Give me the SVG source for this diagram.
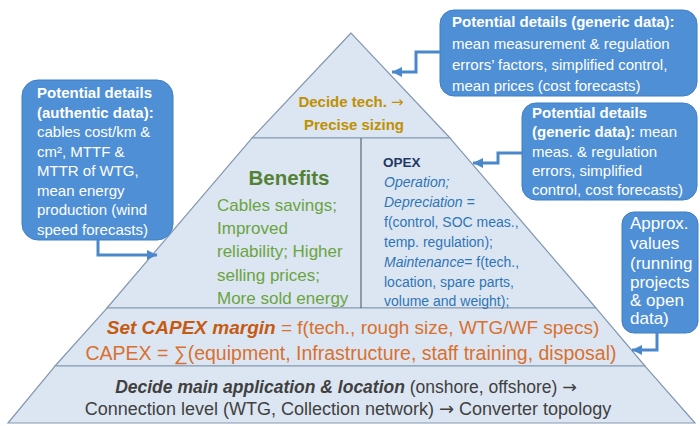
<svg xmlns="http://www.w3.org/2000/svg" width="700" height="426" viewBox="0 0 700 426">
<style>
text{font-family:"Liberation Sans",Arial,sans-serif}
.arr{font-family:"DejaVu Sans",sans-serif;font-weight:normal;font-style:normal}
.sec{fill:#dce6f2;stroke:#8497b0;stroke-width:1.2}
.div{stroke:#5a6573;stroke-width:1.2}
.box{fill:#4e8fd6;stroke:#3f7fc4;stroke-width:1}
.ct{fill:#ffffff;font-size:15px}
.ca{fill:#ffffff;font-size:17px}
.b{font-weight:bold}
.con{fill:none;stroke:#4a88cc;stroke-width:3;marker-end:url(#ah)}
.gold{fill:#bf9000;font-size:15px;font-weight:bold}
.gt{fill:#6aa43f;font-size:17px}
.op{fill:#2e75b6;font-size:14px}
.orb{fill:#c55a11;font-weight:bold;font-style:italic}
.or{fill:#d9702e}
.gr{fill:#404040}
</style>
<defs>
<marker id="ah" markerUnits="userSpaceOnUse" markerWidth="11" markerHeight="11" refX="10" refY="5" orient="auto">
<path d="M0,0 L10,5 L0,10 z" fill="#4a88cc"/>
</marker>
</defs>
<g id="pyramid">
<polygon class="sec" points="351,33 252,138 450,138"/>
<polygon class="sec" points="252,138 450,138 596,308 107,308"/>
<polygon class="sec" points="107,308 596,308 645,366 55,366"/>
<polygon class="sec" points="55,366 645,366 695,423 8,423"/>
<line class="div" x1="361" y1="138" x2="361" y2="308"/>
</g>
<g id="top-level">
<text class="gold" x="351" y="107" text-anchor="middle">Decide tech. <tspan class="arr" fill="#bf9000">→</tspan></text>
<text class="gold" x="354" y="130" text-anchor="middle">Precise sizing</text>
</g>
<g id="benefits">
<text x="289" y="185" text-anchor="middle" style="fill:#548235;font-size:20.5px;font-weight:bold">Benefits</text>
<text class="gt" x="217" y="211">Cables savings;</text>
<text class="gt" x="217" y="234">Improved</text>
<text class="gt" x="217" y="257">reliability; Higher</text>
<text class="gt" x="217" y="281">selling prices;</text>
<text class="gt" x="217" y="304">More sold energy</text>
</g>
<g id="opex">
<text x="383" y="167" style="fill:#1f3864;font-size:13.5px;font-weight:bold">OPEX</text>
<text class="op" x="384" y="187" font-style="italic">Operation;</text>
<text class="op" x="384" y="207" font-style="italic">Depreciation =</text>
<text class="op" x="384" y="227">f(control, SOC meas.,</text>
<text class="op" x="384" y="247">temp. regulation);</text>
<text class="op" x="384" y="267"><tspan font-style="italic">Maintenance</tspan>= f(tech.,</text>
<text class="op" x="384" y="287">location, spare parts,</text>
<text class="op" x="384" y="306">volume and weight);</text>
</g>
<g id="capex">
<text x="353" y="334" text-anchor="middle" font-size="19px"><tspan class="orb">Set CAPEX margin</tspan><tspan class="or"> = f(tech., rough size, WTG/WF specs)</tspan></text>
<text class="or" x="351" y="360" text-anchor="middle" font-size="19.5px">CAPEX = ∑(equipment, Infrastructure, staff training, disposal)</text>
</g>
<g id="base">
<text class="gr" x="346" y="393" text-anchor="middle" font-size="17.5px"><tspan font-weight="bold" font-style="italic">Decide main application &amp; location</tspan> (onshore, offshore) <tspan class="arr">→</tspan></text>
<text class="gr" x="348" y="415" text-anchor="middle" font-size="18px">Connection level (WTG, Collection network) <tspan class="arr">→</tspan> Converter topology</text>
</g>
<g id="callout-authentic">
<rect class="box" x="22" y="80" width="151" height="160" rx="16"/>
<text class="ct b" x="37" y="98">Potential details</text>
<text class="ct b" x="37" y="117.5">(authentic data):</text>
<text class="ct" x="37" y="137">cables cost/km &amp;</text>
<text class="ct" x="37" y="156.5">cm², MTTF &amp;</text>
<text class="ct" x="37" y="176">MTTR of WTG,</text>
<text class="ct" x="37" y="195.5">mean energy</text>
<text class="ct" x="37" y="215">production (wind</text>
<text class="ct" x="37" y="234.5">speed forecasts)</text>
</g>
<g id="callout-generic-top">
<rect class="box" x="440" y="10" width="257" height="86" rx="14"/>
<text class="ct b" x="452" y="27">Potential details (generic data):</text>
<text class="ct" x="452" y="49">mean measurement &amp; regulation</text>
<text class="ct" x="452" y="70">errors’ factors, simplified control,</text>
<text class="ct" x="452" y="91">mean prices (cost forecasts)</text>
</g>
<g id="callout-generic-opex">
<rect class="box" x="522" y="103" width="175" height="97" rx="14"/>
<text class="ct b" x="532" y="118">Potential details</text>
<text class="ct" x="532" y="137"><tspan font-weight="bold">(generic data):</tspan> mean</text>
<text class="ct" x="532" y="157">meas. &amp; regulation</text>
<text class="ct" x="532" y="176">errors, simplified</text>
<text class="ct" x="532" y="195">control, cost forecasts)</text>
</g>
<g id="callout-approx">
<rect class="box" x="622" y="212" width="76" height="121" rx="12"/>
<text class="ca" x="630" y="229">Approx.</text>
<text class="ca" x="630" y="249">values</text>
<text class="ca" x="630" y="269">(running</text>
<text class="ca" x="630" y="288">projects</text>
<text class="ca" x="630" y="306">&amp; open</text>
<text class="ca" x="630" y="324">data)</text>
</g>
<g id="connectors">
<path class="con" d="M98,240 V255 H157"/>
<path class="con" d="M440,52 H416 V72 H392"/>
<path class="con" d="M522,153 H498 V163 H473"/>
<path class="con" d="M657,333 V350 H632"/>
</g>
</svg>
